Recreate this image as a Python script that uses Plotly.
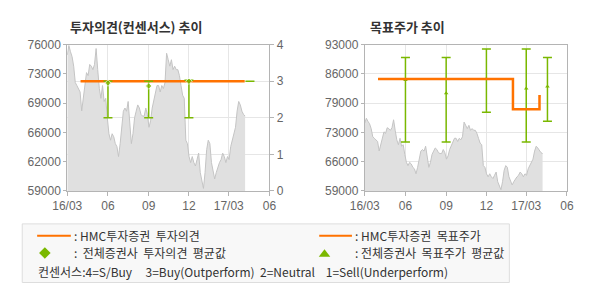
import pandas as pd
import plotly.graph_objects as go

# ---------------- data ----------------
price = [74800, 75900, 75180, 74600, 73500, 71600, 71250, 70900, 70500, 68300,
         69760, 71600, 72750, 72400, 73700, 73500, 73100, 73700, 75550, 73100,
         70900, 69760, 71250, 69400, 69760, 67500, 65650, 64900, 65650, 65300,
         64500, 64150, 63000, 64500, 66800, 68270, 68640, 68270, 69400, 67150,
         64500, 65650, 67500, 68270, 69000, 68640, 67900, 67700, 67700, 68640,
         67900, 66400, 67150, 68640, 69400, 70500, 71250, 71250, 70500, 71250,
         70900, 71600, 75000, 74250, 73500, 74250, 73100, 73500, 73100, 73100,
         72400, 71250, 70130, 69760, 64900, 64500, 63000, 62300, 63000, 62300,
         61900, 62650, 63400, 61150, 60050, 59300, 61150, 63800, 64900, 64500,
         62300, 61150, 60400, 61150, 61900, 62300, 62650, 63400, 63000, 62300,
         63000, 62650, 64150, 64900, 65650, 66400, 68270, 69400, 69000, 68270,
         67900, 67700]
price_start = "2016-03-01"
price_end = "2017-04-07"

hmc_op_dates = ["2016-03-31", "2017-04-06"]
hmc_op_vals = [3, 3]

cons_dates = ["2016-06-01", "2016-09-01", "2016-12-01", "2017-04-18"]
cons_mean = [2.95, 2.87, 3.0, 3.0]
cons_max = [3.0, 3.0, 3.03, 3.0]
cons_min = [2.0, 2.0, 2.0, 3.0]

hmc_tp_dates = ["2016-03-31", "2017-01-30", "2017-03-31", "2017-04-03"]
hmc_tp_vals = [85000, 78000, 81000, 81000]

tp_dates = ["2016-06-01", "2016-09-01", "2016-12-01", "2017-03-01", "2017-04-18"]
tp_mean = [84800, 81700, 85100, 82800, 83300]
tp_max = [90000, 90000, 92000, 92000, 90000]
tp_min = [70400, 70400, 77300, 70400, 75200]

x_tickvals = ["2016-03-01", "2016-06-01", "2016-09-01", "2016-12-01", "2017-03-01", "2017-06-01"]
x_ticktext = ["16/03", "06", "09", "12", "17/03", "06"]
y1_tickvals = [59000, 62400, 65800, 69200, 72600, 76000]
y1_ticktext = ["59000", "62000", "66000", "69000", "73000", "76000"]
y2_tickvals = [0, 1, 2, 3, 4]
y2_ticktext = ["0", "1", "2", "3", "4"]
y3_tickvals = [59000, 65800, 72600, 79400, 86200, 93000]
y3_ticktext = ["59000", "66000", "73000", "79000", "86000", "93000"]

# ---------------- style ----------------
W, H = 590, 300
ORANGE = "#ff7200"
GREEN = "#7ab800"
AREA = "#e0e0e0"
AREA_LINE = "#c4c4c4"
GRID = "#e6e6e6"
AXIS = "#b4b4b4"
TICKF = dict(family="Liberation Sans, Arial", size=12, color="#666666")
KFONT = "Noto Sans CJK KR"

dates = pd.date_range(price_start, price_end, periods=len(price))

fig = go.Figure()

# left chart
fig.add_trace(go.Scatter(x=dates, y=price, mode="lines", fill="tozeroy",
                         fillcolor=AREA, line=dict(color=AREA_LINE, width=1),
                         xaxis="x", yaxis="y", hoverinfo="skip"))
fig.add_trace(go.Scatter(x=hmc_op_dates, y=hmc_op_vals, mode="lines",
                         line=dict(color=ORANGE, width=2.5), xaxis="x", yaxis="y2"))
fig.add_trace(go.Scatter(
    x=cons_dates, y=cons_mean, mode="markers", xaxis="x", yaxis="y2",
    marker=dict(symbol="diamond", size=[5, 5, 5, 0], color=GREEN),
    error_y=dict(type="data", symmetric=False,
                 array=[a - m for a, m in zip(cons_max, cons_mean)],
                 arrayminus=[m - b for m, b in zip(cons_mean, cons_min)],
                 color=GREEN, thickness=1.5, width=4.5)))

# right chart
fig.add_trace(go.Scatter(x=dates, y=price, mode="lines", fill="tozeroy",
                         fillcolor=AREA, line=dict(color=AREA_LINE, width=1),
                         xaxis="x2", yaxis="y3", hoverinfo="skip"))
fig.add_trace(go.Scatter(
    x=tp_dates, y=tp_mean, mode="markers", xaxis="x2", yaxis="y3",
    marker=dict(symbol="triangle-up", size=4, color=GREEN),
    error_y=dict(type="data", symmetric=False,
                 array=[a - m for a, m in zip(tp_max, tp_mean)],
                 arrayminus=[m - b for m, b in zip(tp_mean, tp_min)],
                 color=GREEN, thickness=1.5, width=4.5)))
fig.add_trace(go.Scatter(x=hmc_tp_dates, y=hmc_tp_vals, mode="lines",
                         line=dict(color=ORANGE, width=2.5, shape="hv"),
                         xaxis="x2", yaxis="y3"))

L1, R1 = 54.3, 264.3
L2, R2 = 363.3, 573.3
TOP, BOT = 39.5, 193

xcommon = dict(type="date", range=["2016-03-01", "2017-06-01"], tickvals=x_tickvals,
               ticktext=x_ticktext, showgrid=True, gridcolor=GRID, gridwidth=1,
               showline=True, linecolor=AXIS, linewidth=1, mirror=True,
               ticks="outside", ticklen=4, tickcolor=AXIS, tickfont=TICKF,
               zeroline=False, fixedrange=True)
ydom = [1 - BOT / H, 1 - TOP / H]

fig.update_layout(
    width=W, height=H, margin=dict(l=0, r=0, t=0, b=0),
    paper_bgcolor="white", plot_bgcolor="white", showlegend=False,
    xaxis=dict(domain=[L1 / W, R1 / W], anchor="y", **xcommon),
    xaxis2=dict(domain=[L2 / W, R2 / W], anchor="y3", **xcommon),
    yaxis=dict(domain=ydom, anchor="x", range=[59000, 76000], tickvals=y1_tickvals,
               ticktext=y1_ticktext, showgrid=False, showline=True, linecolor=AXIS,
               mirror=True, ticks="outside", ticklen=3, tickcolor=AXIS,
               tickfont=TICKF, zeroline=False),
    yaxis2=dict(overlaying="y", side="right", anchor="x", range=[0, 4],
                tickvals=y2_tickvals, ticktext=y2_ticktext, showgrid=True,
                gridcolor=GRID, showline=False, ticks="outside", ticklen=4,
                tickcolor=AXIS, tickfont=TICKF, zeroline=False),
    yaxis3=dict(domain=ydom, anchor="x2", range=[59000, 93000], tickvals=y3_tickvals,
                ticktext=y3_ticktext, showgrid=True, gridcolor=GRID, showline=True,
                linecolor=AXIS, mirror=True, ticks="outside", ticklen=3,
                tickcolor=AXIS, tickfont=TICKF, zeroline=False),
)

# titles
fig.add_annotation(x=55 / W, y=1 - 20 / H, xref="paper", yref="paper", xanchor="left",
                   yanchor="middle", showarrow=False,
                   text="<b>투자의견(컨센서스) 추이</b>",
                   font=dict(family=KFONT, size=13, color="#333333"))
fig.add_annotation(x=367 / W, y=1 - 20 / H, xref="paper", yref="paper", xanchor="left",
                   yanchor="middle", showarrow=False, text="<b>목표주가 추이</b>",
                   font=dict(family=KFONT, size=13, color="#333333"))

# legend box
def px(x):
    return x / W


def py(y):
    return 1 - y / H


fig.add_shape(type="rect", xref="paper", yref="paper", x0=px(7.5), x1=px(513.5),
              y0=py(289), y1=py(227.5), fillcolor="#f8f8f8",
              line=dict(color="#dddddd", width=1), layer="below")
for (x0, x1) in [(23, 58), (316, 350)]:
    fig.add_shape(type="line", xref="paper", yref="paper", x0=px(x0), x1=px(x1),
                  y0=py(240), y1=py(240), line=dict(color=ORANGE, width=2))
# diamond
cx, cy, r = 31, 258, 6
fig.add_shape(type="path", xref="paper", yref="paper",
              path=f"M {px(cx)} {py(cy - r)} L {px(cx + r)} {py(cy)} L {px(cx)} {py(cy + r)} L {px(cx - r)} {py(cy)} Z",
              fillcolor=GREEN, line=dict(width=0))
# triangle
tx, ty = 321.5, 258
fig.add_shape(type="path", xref="paper", yref="paper",
              path=f"M {px(tx - 6)} {py(ty + 4)} L {px(tx + 6)} {py(ty + 4)} L {px(tx)} {py(ty - 4)} Z",
              fillcolor=GREEN, line=dict(width=0))

LF = dict(family=KFONT, size=12, color="#333333")
legend_texts = [
    (59, 240, ": HMC투자증권  투자의견"),
    (59, 258, ":  전체증권사  투자의견  평균값"),
    (351, 240, ": HMC투자증권  목표주가"),
    (351, 258, ": 전체증권사  목표주가  평균값"),
    (22, 277, "컨센서스:4=S/Buy     3=Buy(Outperform)  2=Neutral    1=Sell(Underperform)"),
]
for x, y, t in legend_texts:
    fig.add_annotation(x=px(x), y=py(y), xref="paper", yref="paper", xanchor="left",
                       yanchor="middle", showarrow=False, text=t, font=LF)

fig.write_html("out.html")
